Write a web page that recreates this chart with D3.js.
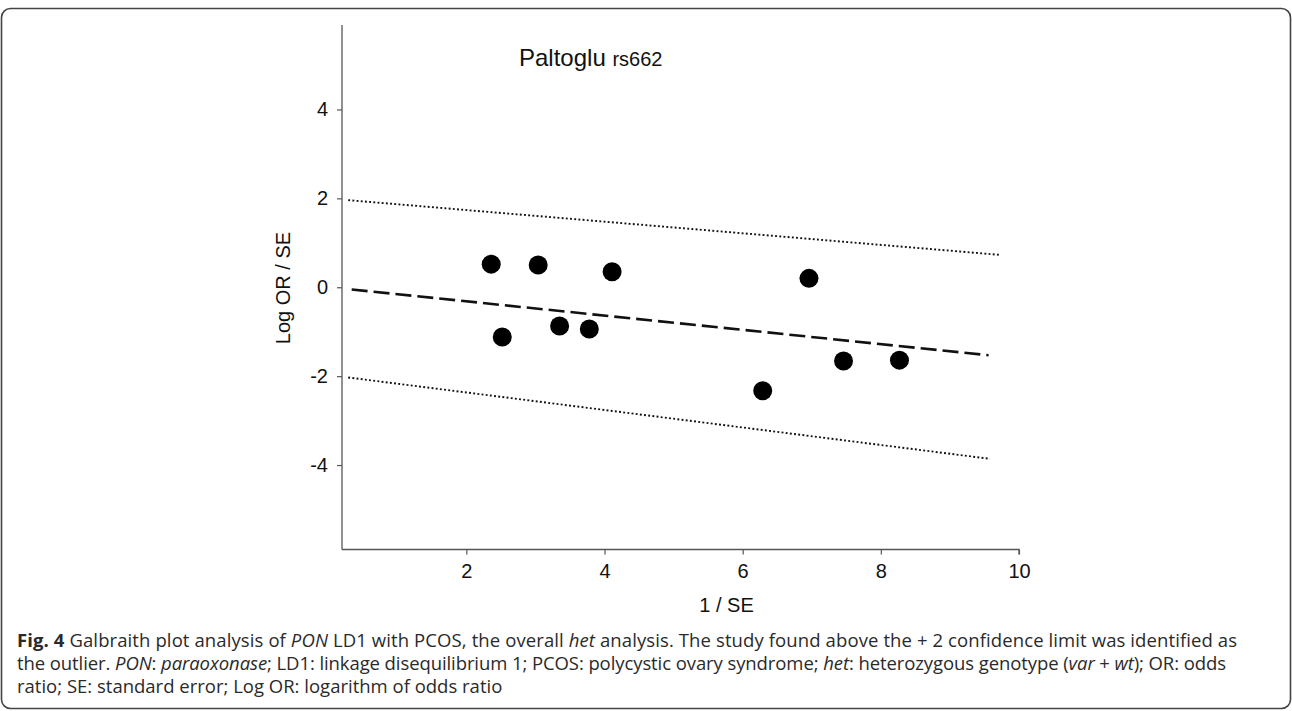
<!DOCTYPE html>
<html>
<head>
<meta charset="utf-8">
<script src="https://cdn.jsdelivr.net/npm/d3@7"></script>
<style>
  html, body { margin: 0; padding: 0; background: #fff; }
  svg { display: block; }
</style>
</head>
<body>
<svg id="chart" width="1292" height="711"></svg>
<script>
// ---- data ----
const studyX = [2.36, 3.04, 4.11, 2.52, 3.35, 3.78, 6.96, 7.46, 8.27, 6.29];
const studyY = [0.52, 0.50, 0.35, -1.12, -0.87, -0.94, 0.20, -1.66, -1.64, -2.33];
const regressionLine = [[0.34, -0.05], [9.56, -1.53]];
const upperLimit = [[0.29, 1.96], [9.71, 0.73]];
const lowerLimit = [[0.29, -2.03], [9.58, -3.86]];
const xTicks = [2, 4, 6, 8, 10];
const yTicks = [-4, -2, 0, 2, 4];
const xDomain = [0.2, 10];
const yDomain = [-5.9, 5.9];
const titleMain = "Paltoglu";
const titleSub = "rs662";
const xLabel = "1 / SE";
const yLabel = "Log OR / SE";
const captionLines = [
  [["b", "Fig. 4"], ["n", " Galbraith plot analysis of "], ["i", "PON"], ["n", " LD1 with PCOS, the overall "], ["i", "het"], ["n", " analysis. The study found above the + 2 confidence limit was identified as"]],
  [["n", "the outlier. "], ["i", "PON"], ["n", ": "], ["i", "paraoxonase"], ["n", "; LD1: linkage disequilibrium 1; PCOS: polycystic ovary syndrome; "], ["i", "het"], ["n", ": heterozygous genotype ("], ["i", "var"], ["n", " + "], ["i", "wt"], ["n", "); OR: odds"]],
  [["n", "ratio; SE: standard error; Log OR: logarithm of odds ratio"]]
];

// ---- layout ----
const svg = d3.select("#chart");
const plot = { left: 342, right: 1019, top: 25, bottom: 549.5 };
const x = d3.scaleLinear().domain(xDomain).range([plot.left, plot.right]);
const y = d3.scaleLinear().domain(yDomain).range([plot.bottom, plot.top]);
const chartFont = "'Liberation Sans', Arial, sans-serif";

// frame
svg.append("rect")
  .attr("x", 1.5).attr("y", 8.5).attr("width", 1289).attr("height", 700)
  .attr("rx", 9).attr("ry", 9)
  .attr("fill", "#fff").attr("stroke", "#444").attr("stroke-width", 1.6);

// axes
const xAxis = svg.append("g")
  .attr("transform", `translate(0,${plot.bottom})`)
  .call(d3.axisBottom(x).tickValues(xTicks).tickSize(5).tickPadding(9).tickFormat(d3.format("d")));
const yAxis = svg.append("g")
  .attr("transform", `translate(${plot.left},0)`)
  .call(d3.axisLeft(y).tickValues(yTicks).tickSize(5).tickPadding(9).tickFormat(d => d < 0 ? "-" + Math.abs(d) : String(d)));
[xAxis, yAxis].forEach(g => {
  g.select(".domain").attr("stroke", "#555").attr("stroke-width", 1.3);
  g.selectAll(".tick line").attr("stroke", "#555").attr("stroke-width", 1.2);
  g.selectAll(".tick text").attr("fill", "#111")
    .style("font-family", chartFont).style("font-size", "20px");
});
xAxis.select(".domain").attr("d", `M${plot.left},0H${plot.right}V5`);
yAxis.select(".domain").attr("d", `M0,${plot.top}V${plot.bottom}`);

// axis labels
svg.append("text")
  .attr("x", (plot.left + plot.right) / 2 + 46).attr("y", 612)
  .attr("text-anchor", "middle").attr("fill", "#111")
  .style("font-family", chartFont).style("font-size", "20px")
  .text(xLabel);
svg.append("text")
  .attr("transform", `translate(290,288) rotate(-90)`)
  .attr("text-anchor", "middle").attr("fill", "#111")
  .style("font-family", chartFont).style("font-size", "20px")
  .text(yLabel);

// title
const t = svg.append("text")
  .attr("x", 519).attr("y", 66).attr("fill", "#111")
  .style("font-family", chartFont);
t.append("tspan").style("font-size", "24px").text(titleMain + " ");
t.append("tspan").style("font-size", "20px").text(titleSub);

// lines
const line = d3.line().x(d => x(d[0])).y(d => y(d[1]));
svg.append("path").attr("d", line(upperLimit))
  .attr("fill", "none").attr("stroke", "#111").attr("stroke-width", 1.9).attr("stroke-dasharray", "1.9,2.3");
svg.append("path").attr("d", line(lowerLimit))
  .attr("fill", "none").attr("stroke", "#111").attr("stroke-width", 1.9).attr("stroke-dasharray", "1.9,2.3");
svg.append("path").attr("d", line(regressionLine))
  .attr("fill", "none").attr("stroke", "#111").attr("stroke-width", 2.6).attr("stroke-dasharray", "16,6");

// points
svg.append("g").selectAll("circle")
  .data(studyX.map((v, i) => [v, studyY[i]]))
  .join("circle")
  .attr("cx", d => x(d[0])).attr("cy", d => y(d[1])).attr("r", 9.5)
  .attr("fill", "#000");

// caption
const capY = [647, 670, 693];
const capLen = [1220, 1209, null];
captionLines.forEach((segs, li) => {
  const tx = svg.append("text")
    .attr("x", 17).attr("y", capY[li]).attr("fill", "#2a2a2a")
    .style("font-family", "'Open Sans', 'Noto Sans', sans-serif").style("font-size", "18.5px");
  if (capLen[li]) tx.attr("textLength", capLen[li]).attr("lengthAdjust", "spacing");
  segs.forEach(([k, s]) => {
    const sp = tx.append("tspan").text(s);
    if (k === "b") sp.style("font-weight", "bold");
    if (k === "i") sp.style("font-style", "italic");
  });
});
</script>
</body>
</html>
